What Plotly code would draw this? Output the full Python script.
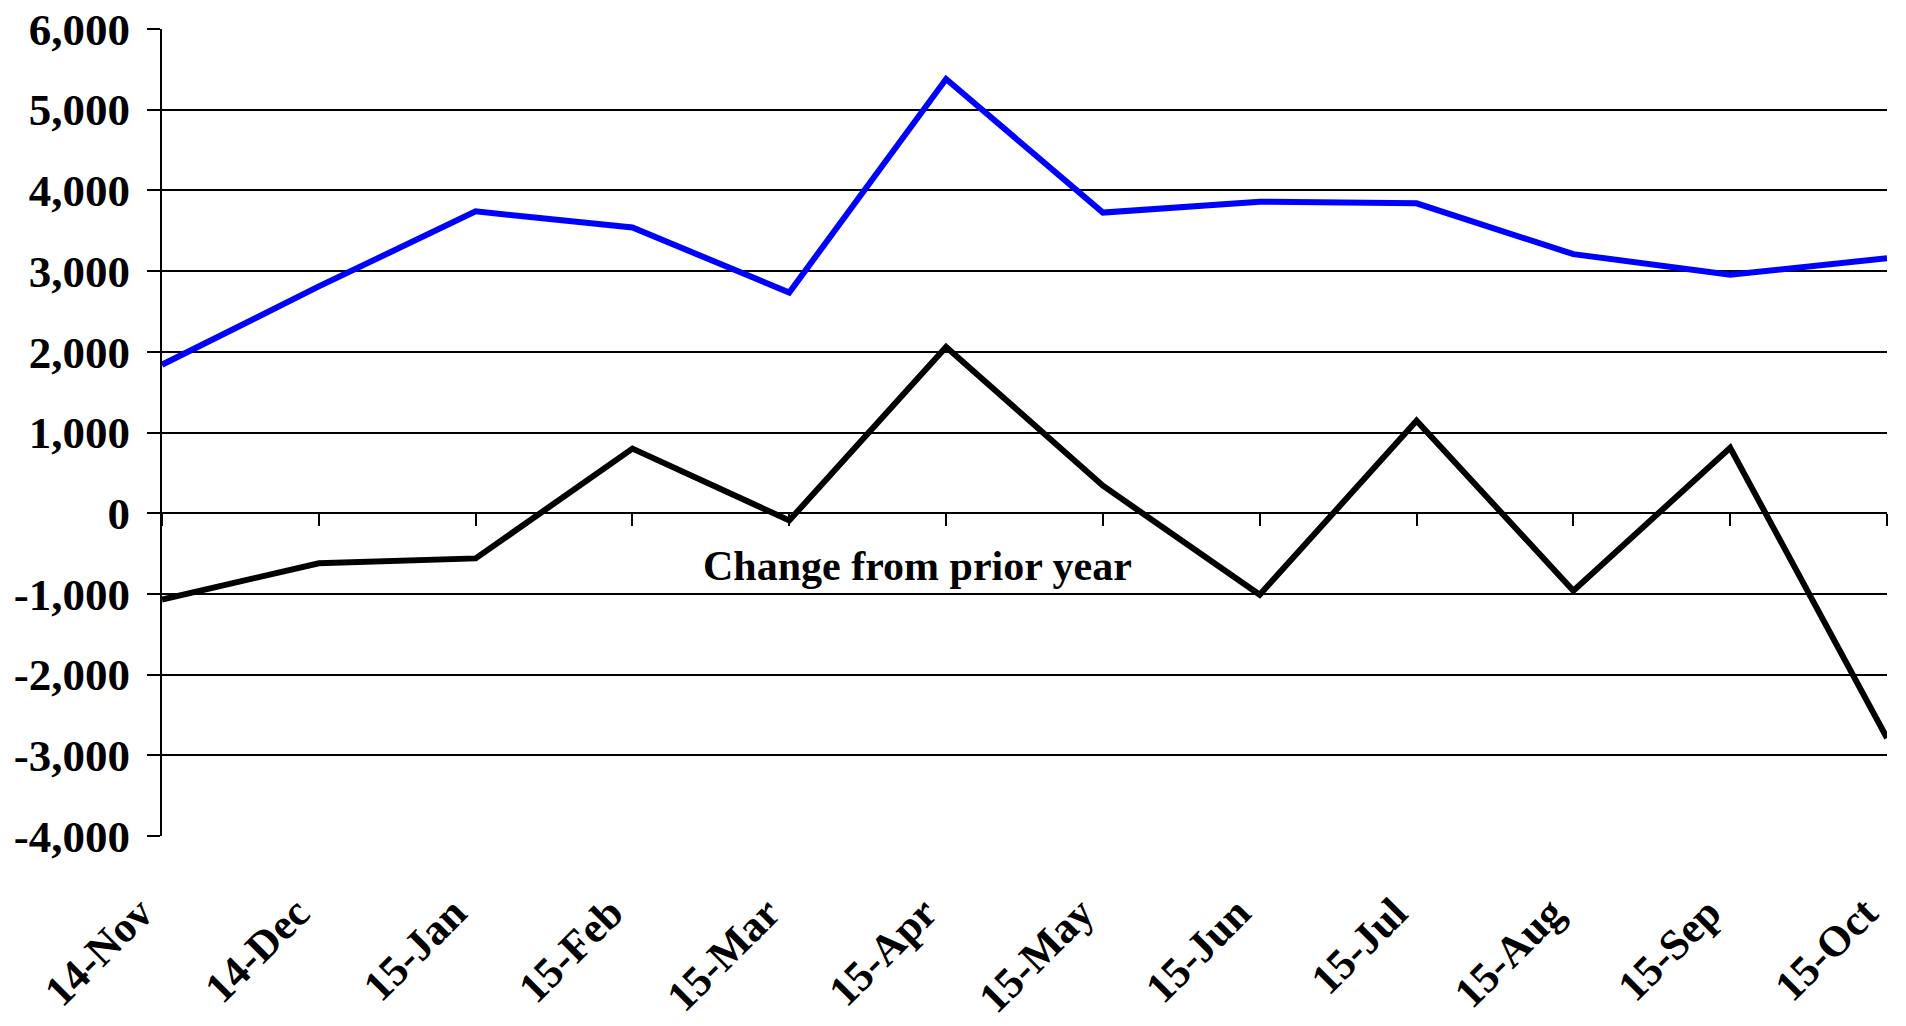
import plotly.graph_objects as go

categories = ["14-Nov", "14-Dec", "15-Jan", "15-Feb", "15-Mar", "15-Apr",
              "15-May", "15-Jun", "15-Jul", "15-Aug", "15-Sep", "15-Oct"]
level_values = [1840, 2810, 3740, 3540, 2735, 5380, 3725, 3860, 3840, 3210, 2955, 3160]
change_values = [-1070, -620, -560, 800, -90, 2060, 340, -1010, 1145, -960, 810, -2785]
y_tick_values = [-4000, -3000, -2000, -1000, 0, 1000, 2000, 3000, 4000, 5000, 6000]
y_tick_labels = ["-4,000", "-3,000", "-2,000", "-1,000", "0", "1,000", "2,000",
                 "3,000", "4,000", "5,000", "6,000"]
annotation_text = "Change from prior year"

FONT = "Liberation Serif, Times New Roman, serif"
Y_MIN, Y_MAX = -4000, 6000

fig = go.Figure()
fig.add_trace(go.Scatter(x=categories, y=level_values, mode="lines",
                         line=dict(color="#0000FF", width=6), xaxis="x", yaxis="y",
                         hoverinfo="skip"))
fig.add_trace(go.Scatter(x=categories, y=change_values, mode="lines",
                         line=dict(color="#000000", width=6), xaxis="x2", yaxis="y",
                         hoverinfo="skip"))

fig.update_layout(
    width=1906, height=1026,
    margin=dict(l=162, r=19, t=29, b=190, autoexpand=False),
    paper_bgcolor="white", plot_bgcolor="white",
    showlegend=False,
    font=dict(family=FONT, color="black"),
    xaxis=dict(
        type="category", range=[0, len(categories) - 1],
        showgrid=False, zeroline=False, showline=False, ticks="",
        tickangle=-45, ticklabelstandoff=42, ticklabelshift=-22,
        tickfont=dict(family=FONT, size=43, color="black", weight="bold"),
    ),
    xaxis2=dict(
        type="category", matches="x", overlaying="x", anchor="free",
        position=(0 - Y_MIN) / (Y_MAX - Y_MIN), side="bottom",
        showgrid=False, zeroline=False, showline=False, showticklabels=False,
        ticks="outside", ticklen=12, tickwidth=2, tickcolor="black",
    ),
    yaxis=dict(
        range=[Y_MIN, Y_MAX], tickvals=y_tick_values, ticktext=y_tick_labels,
        showgrid=True, gridcolor="black", gridwidth=2,
        zeroline=False, showline=True, linecolor="black", linewidth=2,
        ticks="outside", ticklen=13, tickwidth=2, tickcolor="black",
        ticklabelstandoff=8,
        tickfont=dict(family=FONT, size=45, color="black", weight="bold"),
    ),
    annotations=[dict(
        text=annotation_text, xref="paper", yref="y", x=0.438, y=-650,
        showarrow=False, xanchor="center", yanchor="middle",
        font=dict(family=FONT, size=42, color="black", weight="bold"),
    )],
)

fig.write_html("out.html", config={"displayModeBar": False},
               post_script="document.body.style.margin='0';")
